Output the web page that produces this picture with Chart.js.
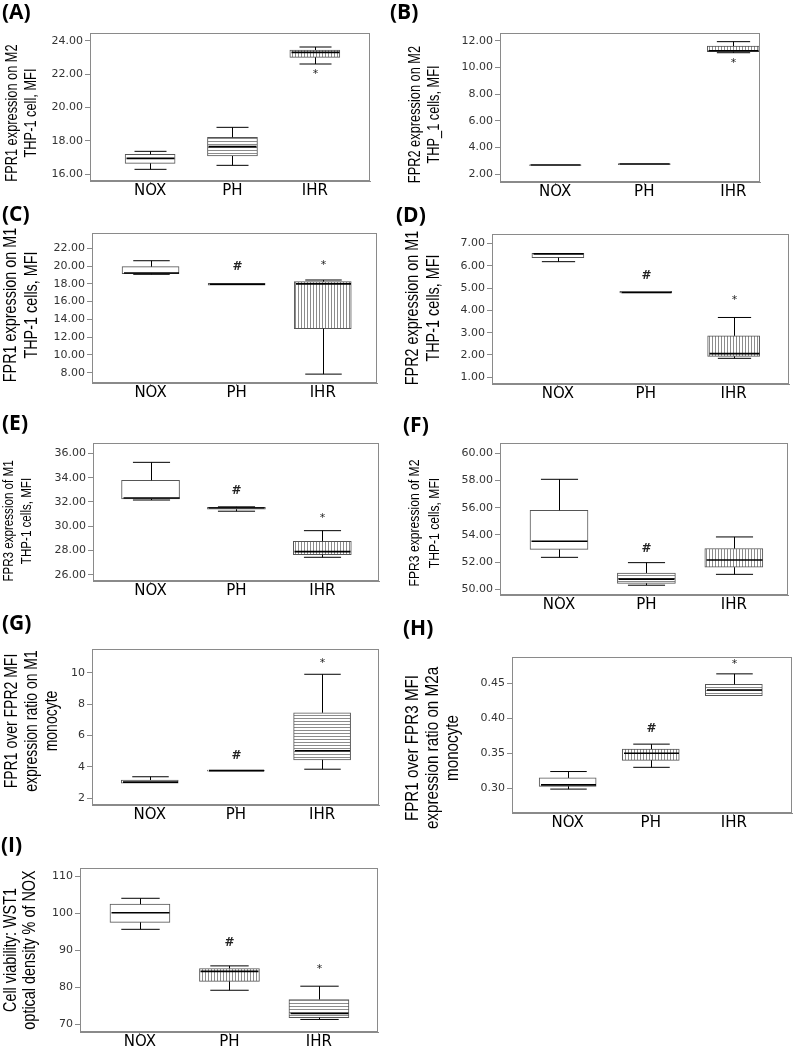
<!DOCTYPE html>
<html>
<head>
<meta charset="utf-8">
<script src="https://cdn.jsdelivr.net/npm/chart.js@4.4.1/dist/chart.umd.min.js"></script>
<style>
  html, body { margin: 0; padding: 0; background: #fff; overflow: hidden; }
  #page { position: relative; width: 793px; height: 1048px; }
  .panel-letter { position: absolute; font-family: "Open Sans", "Noto Sans", sans-serif; font-weight: 700; font-size: 21px; line-height: 24px; color: #000; }
  canvas { position: absolute; }
</style>
</head>
<body>
<div id="page"></div>
<script>
// group names on every x axis
const groups = ['NOX', 'PH', 'IHR'];

// (A) FPR1 expression on M2 THP-1 cells
const aLow  = [16.28, 16.52, 22.60];
const aQ1   = [16.64, 17.08, 23.00];
const aMed  = [16.94, 17.64, 23.30];
const aQ3   = [17.18, 18.20, 23.44];
const aHigh = [17.36, 18.80, 23.62];
const aMark = ['', '', '*'];
const aMarkAt = [null, null, 22.2];
const aTicks = [16, 18, 20, 22, 24];

// (B) FPR2 expression on M2 THP_1 cells
const bLow  = [2.62, 2.68, 11.10];
const bQ1   = [2.64, 2.70, 11.18];
const bMed  = [2.67, 2.75, 11.25];
const bQ3   = [2.69, 2.79, 11.60];
const bHigh = [2.70, 2.82, 11.93];
const bMark = ['', '', '*'];
const bMarkAt = [null, null, 10.55];
const bTicks = [2, 4, 6, 8, 10, 12];

// (C) FPR1 expression on M1 THP-1 cells
const cLow  = [19.07, 17.80, 7.84];
const cQ1   = [19.15, 17.85, 12.95];
const cMed  = [19.22, 17.95, 18.00];
const cQ3   = [19.93, 18.05, 18.25];
const cHigh = [20.60, 18.10, 18.43];
const cMark = ['', '#', '*'];
const cMarkAt = [null, 19.95, 20.4];
const cTicks = [8, 10, 12, 14, 16, 18, 20, 22];

// (D) FPR2 expression on M1 THP-1 cells
const dLow  = [6.18, 4.76, 1.85];
const dQ1   = [6.36, 4.78, 1.94];
const dMed  = [6.53, 4.80, 2.06];
const dQ3   = [6.55, 4.85, 2.86];
const dHigh = [6.55, 4.87, 3.68];
const dMark = ['', '#', '*'];
const dMarkAt = [null, 5.53, 4.6];
const dTicks = [1, 2, 3, 4, 5, 6, 7];

// (E) FPR3 expression of M1 THP-1 cells
const eLow  = [32.16, 31.24, 27.45];
const eQ1   = [32.25, 31.40, 27.67];
const eMed  = [32.33, 31.50, 27.92];
const eQ3   = [33.78, 31.55, 28.77];
const eHigh = [35.26, 31.60, 29.64];
const eMark = ['', '#', '*'];
const eMarkAt = [null, 32.93, 30.93];
const eTicks = [26, 28, 30, 32, 34, 36];

// (F) FPR3 expression of M2 THP-1 cells
const fLow  = [52.35, 50.30, 51.10];
const fQ1   = [52.94, 50.44, 51.62];
const fMed  = [53.53, 50.75, 52.15];
const fQ3   = [55.81, 51.20, 53.00];
const fHigh = [58.09, 51.96, 53.85];
const fMark = ['', '#', ''];
const fMarkAt = [null, 52.96, null];
const fTicks = [50, 52, 54, 56, 58, 60];

// (G) FPR1 / FPR2 ratio on M1 monocyte
const gLow  = [2.94, 3.72, 3.85];
const gQ1   = [2.96, 3.73, 4.45];
const gMed  = [3.03, 3.76, 5.03];
const gQ3   = [3.16, 3.80, 7.45];
const gHigh = [3.37, 3.80, 9.90];
const gMark = ['', '#', '*'];
const gMarkAt = [null, 4.68, 10.8];
const gTicks = [2, 4, 6, 8, 10];

// (H) FPR1 / FPR3 ratio on M2a monocyte
const hLow  = [0.299, 0.330, 0.432];
const hQ1   = [0.303, 0.340, 0.432];
const hMed  = [0.305, 0.350, 0.440];
const hQ3   = [0.315, 0.356, 0.448];
const hHigh = [0.324, 0.363, 0.463];
const hMark = ['', '#', '*'];
const hMarkAt = [null, 0.385, 0.481];
const hTicks = [0.30, 0.35, 0.40, 0.45];

// (I) Cell viability, WST1 % of NOX
const iLow  = [95.7, 79.2, 71.3];
const iQ1   = [97.6, 81.6, 71.8];
const iMed  = [100.2, 84.3, 72.9];
const iQ3   = [102.5, 85.1, 76.7];
const iHigh = [104.1, 85.8, 80.3];
const iMark = ['', '#', '*'];
const iMarkAt = [null, 91.9, 85.8];
const iTicks = [70, 80, 90, 100, 110];

// stats + text for each panel
const panels = [
  { tag: '(A)', low: aLow, q1: aQ1, med: aMed, q3: aQ3, high: aHigh, mark: aMark, markAt: aMarkAt, ticks: aTicks, dec: 2,
    fill: ['none', 'h', 'v'], title: ['FPR1 expression on M2', 'THP-1 cell, MFI'] },
  { tag: '(B)', low: bLow, q1: bQ1, med: bMed, q3: bQ3, high: bHigh, mark: bMark, markAt: bMarkAt, ticks: bTicks, dec: 2,
    fill: ['none', 'h', 'v'], title: ['FPR2 expression on M2', 'THP_1 cells, MFI'] },
  { tag: '(C)', low: cLow, q1: cQ1, med: cMed, q3: cQ3, high: cHigh, mark: cMark, markAt: cMarkAt, ticks: cTicks, dec: 2,
    fill: ['none', 'h', 'v'], title: ['FPR1 expression on M1', 'THP-1 cells, MFI'] },
  { tag: '(D)', low: dLow, q1: dQ1, med: dMed, q3: dQ3, high: dHigh, mark: dMark, markAt: dMarkAt, ticks: dTicks, dec: 2,
    fill: ['none', 'h', 'v'], title: ['FPR2 expression on M1', 'THP-1 cells, MFI'] },
  { tag: '(E)', low: eLow, q1: eQ1, med: eMed, q3: eQ3, high: eHigh, mark: eMark, markAt: eMarkAt, ticks: eTicks, dec: 2,
    fill: ['none', 'h', 'v'], title: ['FPR3 expression of M1', 'THP-1 cells, MFI'] },
  { tag: '(F)', low: fLow, q1: fQ1, med: fMed, q3: fQ3, high: fHigh, mark: fMark, markAt: fMarkAt, ticks: fTicks, dec: 2,
    fill: ['none', 'h', 'v'], title: ['FPR3 expression of M2', 'THP-1 cells, MFI'] },
  { tag: '(G)', low: gLow, q1: gQ1, med: gMed, q3: gQ3, high: gHigh, mark: gMark, markAt: gMarkAt, ticks: gTicks, dec: 0,
    fill: ['none', 'h', 'h'], title: ['FPR1 over FPR2 MFI', 'expression ratio on M1', 'monocyte'] },
  { tag: '(H)', low: hLow, q1: hQ1, med: hMed, q3: hQ3, high: hHigh, mark: hMark, markAt: hMarkAt, ticks: hTicks, dec: 2,
    fill: ['none', 'v', 'h'], title: ['FPR1 over FPR3 MFI', 'expression ratio on M2a', 'monocyte'] },
  { tag: '(I)', low: iLow, q1: iQ1, med: iMed, q3: iQ3, high: iHigh, mark: iMark, markAt: iMarkAt, ticks: iTicks, dec: 0,
    fill: ['none', 'v', 'h'], title: ['Cell viability: WST1', 'optical density % of NOX'] },
];

// page layout: column origin, plot box, axis ranges, box width,
// y title (first line centre x, font size, line pitch, vertical shift), letter spot
const layouts = [
  { col: 0,   L: 90,  T: 33,  R: 370, B: 181,  xr: [-0.73, 2.67],  yr: [15.58, 24.46], bw: 50, t1: 12.6,  ts: 16,   tp: 18.5, ty: 6,  lx: 2,   ly: -1 },
  { col: 396, L: 500, T: 33,  R: 760, B: 182,  xr: [-0.62, 2.30],  yr: [1.40, 12.58],  bw: 52, t1: 415.2, ts: 16,   tp: 19.5, ty: 7,  lx: 390, ly: -1 },
  { col: 0,   L: 92,  T: 233, R: 377, B: 383,  xr: [-0.68, 2.63],  yr: [6.84, 23.72],  bw: 57, t1: 10.7,  ts: 18,   tp: 21,   ty: -3, lx: 2,   ly: 201 },
  { col: 396, L: 492, T: 234, R: 789, B: 384,  xr: [-0.75, 2.63],  yr: [0.70, 7.42],   bw: 52, t1: 412.7, ts: 18,   tp: 21.5, ty: -1, lx: 396, ly: 202 },
  { col: 0,   L: 93,  T: 443, R: 379, B: 581,  xr: [-0.67, 2.66],  yr: [25.5, 36.85],  bw: 58, t1: 9.4,   ts: 14.5, tp: 18,   ty: 9,  lx: 2,   ly: 410 },
  { col: 396, L: 500, T: 443, R: 788, B: 595,  xr: [-0.675, 2.62], yr: [49.58, 60.76], bw: 58, t1: 414.6, ts: 15.2, tp: 20,   ty: 4,  lx: 403, ly: 412 },
  { col: 0,   L: 92,  T: 649, R: 379, B: 805,  xr: [-0.67, 2.66],  yr: [1.57, 11.51],  bw: 57, t1: 12.5,  ts: 17.5, tp: 20,   ty: -6, lx: 2,   ly: 610 },
  { col: 396, L: 512, T: 657, R: 792, B: 813,  xr: [-0.67, 2.70],  yr: [0.265, 0.487], bw: 57, t1: 413,   ts: 19,   tp: 20,   ty: 13, lx: 403, ly: 615 },
  { col: 0,   L: 80,  T: 868, R: 378, B: 1032, xr: [-0.67, 2.66],  yr: [67.9, 112.3],  bw: 60, t1: 11,    ts: 18,   tp: 19.5, ty: 0,  lx: 1,   ly: 832 },
];

const PAD_TOP = 40;
const X_AXIS_H = 22;

function stripes(dir) {
  const c = document.createElement('canvas');
  c.width = 3; c.height = 3;
  const g = c.getContext('2d');
  g.fillStyle = '#fff';
  g.fillRect(0, 0, 3, 3);
  g.fillStyle = '#8c8c8c';
  if (dir === 'h') g.fillRect(0, 1, 3, 1);
  else g.fillRect(1, 0, 1, 3);
  return g.createPattern(c, 'repeat');
}

// whiskers, medians, significance marks, the frame and the narrow y title
function boxPlugin(p, lay) {
  return {
    id: 'boxparts',
    afterDatasetsDraw(chart) {
      const { ctx, chartArea } = chart;
      const xs = chart.scales.x, ys = chart.scales.y;
      ctx.save();
      ctx.strokeStyle = '#000';
      ctx.lineWidth = 1;
      const half = lay.bw / 2;
      const cap = lay.bw * 0.32;
      groups.forEach((g, i) => {
        const x = Math.round(xs.getPixelForValue(i)) + 0.5;
        const yLo = ys.getPixelForValue(p.low[i]);
        const yQ1 = ys.getPixelForValue(p.q1[i]);
        const yQ3 = ys.getPixelForValue(p.q3[i]);
        const yHi = ys.getPixelForValue(p.high[i]);
        const yMd = ys.getPixelForValue(p.med[i]);
        ctx.beginPath();
        if (yHi < yQ3 - 0.5) {
          ctx.moveTo(x, yQ3); ctx.lineTo(x, yHi);
          ctx.moveTo(x - cap, yHi); ctx.lineTo(x + cap, yHi);
        }
        if (yLo > yQ1 + 0.5) {
          ctx.moveTo(x, yQ1); ctx.lineTo(x, yLo);
          ctx.moveTo(x - cap, yLo); ctx.lineTo(x + cap, yLo);
        }
        ctx.stroke();
        ctx.beginPath();
        ctx.lineWidth = 1.6;
        ctx.moveTo(x - half + 1, yMd); ctx.lineTo(x + half - 1, yMd);
        ctx.stroke();
        ctx.lineWidth = 1;
        if (p.mark[i]) {
          const sym = p.mark[i];
          ctx.fillStyle = '#222';
          ctx.textAlign = 'center';
          ctx.textBaseline = 'middle';
          if (sym === '#') {
            ctx.font = 'bold 12px "DejaVu Sans"';
            ctx.fillText(sym, x, ys.getPixelForValue(p.markAt[i]));
          } else {
            ctx.font = '11px "DejaVu Sans"';
            ctx.fillText(sym, x, ys.getPixelForValue(p.markAt[i]) + 3);
          }
        }
      });
      ctx.strokeStyle = '#8a8a8a';
      ctx.strokeRect(chartArea.left + 0.5, chartArea.top + 0.5,
        chartArea.right - chartArea.left - 1, chartArea.bottom - chartArea.top - 1);

      // y axis title, Arial-Narrow look
      const cy = (chartArea.top + chartArea.bottom) / 2 + lay.ty;
      ctx.fillStyle = '#000';
      ctx.font = lay.ts + 'px "Liberation Sans", Arial, sans-serif';
      ctx.textAlign = 'center';
      ctx.textBaseline = 'middle';
      p.title.forEach((line, j) => {
        ctx.save();
        ctx.translate(lay.t1 - lay.col + j * lay.tp, cy);
        ctx.rotate(-Math.PI / 2);
        ctx.scale(0.8, 1);
        ctx.fillText(line, 0, 0);
        ctx.restore();
      });
      ctx.restore();
    }
  };
}

const page = document.getElementById('page');

panels.forEach((p, k) => {
  const lay = layouts[k];

  const top = lay.T - PAD_TOP;
  const padRight = 1;
  const cv = document.createElement('canvas');
  cv.width = lay.R + padRight - lay.col;
  cv.height = lay.B + X_AXIS_H - top;
  cv.style.left = lay.col + 'px';
  cv.style.top = top + 'px';
  page.appendChild(cv);

  const tag = document.createElement('div');
  tag.className = 'panel-letter';
  tag.textContent = p.tag;
  tag.style.left = lay.lx + 'px';
  tag.style.top = lay.ly + 'px';
  page.appendChild(tag);

  const fills = p.fill.map(f => f === 'none' ? '#fff' : stripes(f));

  new Chart(cv, {
    type: 'bar',
    data: {
      datasets: [{
        data: groups.map((g, i) => ({ x: i, y: [p.q1[i], p.q3[i]] })),
        backgroundColor: fills,
        borderColor: '#555',
        borderWidth: 1,
        borderSkipped: false,
        barThickness: lay.bw,
      }]
    },
    options: {
      responsive: false,
      animation: false,
      devicePixelRatio: 1,
      layout: { padding: { top: PAD_TOP, right: padRight, left: 0, bottom: 0 } },
      plugins: { legend: { display: false }, tooltip: { enabled: false } },
      scales: {
        x: {
          type: 'linear',
          min: lay.xr[0],
          max: lay.xr[1],
          offset: false,
          afterBuildTicks: s => { s.ticks = groups.map((g, i) => ({ value: i })); },
          afterFit: s => { s.height = X_AXIS_H; },
          ticks: {
            callback: v => groups[v],
            font: { family: 'DejaVu Sans', size: 15, lineHeight: 1 },
            color: '#000',
            padding: 0,
            autoSkip: false,
            maxRotation: 0,
          },
          grid: { drawOnChartArea: false, offset: false, tickLength: 3, color: '#8a8a8a' },
          border: { color: '#8a8a8a' },
        },
        y: {
          min: lay.yr[0],
          max: lay.yr[1],
          afterBuildTicks: s => { s.ticks = p.ticks.map(v => ({ value: v })); },
          afterFit: s => { s.width = lay.L - lay.col; },
          ticks: {
            callback: v => v.toFixed(p.dec),
            font: { family: 'DejaVu Sans', size: 11 },
            color: '#333',
            padding: 2,
          },
          grid: { drawOnChartArea: false, tickLength: 5, color: '#8a8a8a' },
          border: { color: '#8a8a8a' },
        }
      }
    },
    plugins: [boxPlugin(p, lay)]
  });
});
</script>
</body>
</html>
